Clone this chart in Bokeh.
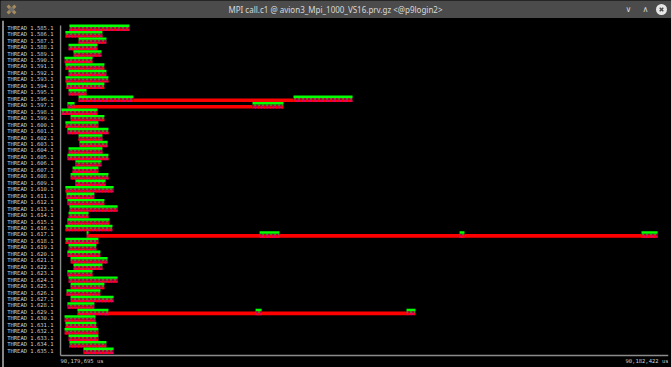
from bokeh.plotting import figure
from bokeh.layouts import column, row
from bokeh.models import Range1d, FixedTicker, ColumnDataSource
from bokeh.embed import file_html
from bokeh.resources import INLINE
from bokeh.core.properties import value

# time window shown (us)
T_BEGIN = 90179695
T_END = 90182422

thread_ids = list(range(585, 636))
thread_labels = [f"THREAD 1.{n}.1" for n in thread_ids]

# bursts of MPI calls: thread, begin and end in us after T_BEGIN
burst_thread = [585, 586, 587, 588, 589, 590, 591, 592, 593, 594, 595,
                596, 596, 597, 597, 598, 599, 600, 601, 602, 603, 604,
                605, 606, 607, 608, 609, 610, 611, 612, 613, 614, 615,
                616, 617, 617, 617, 617, 618, 619, 620, 621, 622, 623,
                624, 625, 626, 627, 628, 629, 629, 629, 630, 631, 632,
                633, 634, 635]
burst_begin = [40, 22, 81, 36, 58, 18, 22, 36, 22, 27, 36,
               81, 1045, 31, 861, 4, 45, 22, 31, 81, 85, 36,
               31, 67, 54, 45, 67, 22, 27, 31, 40, 36, 31,
               22, 117, 893, 1790, 2606, 22, 36, 31, 45, 58, 31,
               36, 45, 27, 45, 31, 76, 875, 1552, 18, 22, 18,
               36, 40, 103]
burst_end = [309, 188, 206, 166, 184, 144, 197, 206, 215, 197, 117,
             327, 1310, 63, 1000, 166, 197, 170, 215, 188, 211, 188,
             215, 184, 170, 215, 202, 238, 152, 197, 256, 126, 220,
             233, 126, 982, 1812, 2678, 170, 161, 179, 211, 188, 144,
             256, 197, 179, 238, 152, 215, 902, 1592, 157, 161, 170,
             170, 206, 238]

# long blocking calls
block_thread = [596, 597, 617, 629]
block_begin = [327, 54, 121, 202]
block_end = [1045, 861, 2669, 1556]

bursts = ColumnDataSource(dict(
    left=[T_BEGIN + b for b in burst_begin],
    right=[T_BEGIN + e for e in burst_end],
    y=[t - thread_ids[0] for t in burst_thread],
))
bursts.data["g_top"] = [y - 0.5 for y in bursts.data["y"]]
bursts.data["g_bot"] = [y - 0.12 for y in bursts.data["y"]]
bursts.data["m_bot"] = [y + 0.16 for y in bursts.data["y"]]
bursts.data["r_bot"] = [y + 0.5 for y in bursts.data["y"]]

blocks = ColumnDataSource(dict(
    left=[T_BEGIN + b for b in block_begin],
    right=[T_BEGIN + e for e in block_end],
    top=[t - thread_ids[0] - 0.05 for t in block_thread],
    bottom=[t - thread_ids[0] + 0.5 for t in block_thread],
))

LABEL_FONT = "DejaVu Sans Mono"
LABEL_COLOR = "#cfcfcf"
AXIS_COLOR = "#8c8c8c"
N = len(thread_ids)


def blank(fig, bg):
    fig.axis.visible = False
    fig.grid.visible = False
    fig.outline_line_color = None
    fig.background_fill_color = bg
    fig.border_fill_color = bg


# ---- window title bar ----
bar_bg = "#4b4b4b"
head = figure(width=671, height=18, x_range=Range1d(0, 671), y_range=Range1d(0, 18),
              min_border=0, toolbar_location=None, output_backend="svg")
blank(head, bar_bg)
head.text(x=[335], y=[9], text=["MPI call.c1 @ avion3_Mpi_1000_VS16.prv.gz <@p9login2>"],
          text_align="center", text_baseline="middle", text_font=value("Noto Sans"),
          text_font_size="8px", text_color="#d8d8d8")
head.text(x=[628, 645], y=[9, 9], text=["\u2228", "\u2227"], text_align="center",
          text_baseline="middle", text_font=value("DejaVu Sans"), text_font_size="8px",
          text_color="#d8d8d8")
head.scatter(x=[661], y=[9], size=11, marker="circle", fill_color="#e6e6e6", line_color=None)
head.scatter(x=[661], y=[9], size=5, marker="x", line_color=bar_bg, line_width=1.5)
head.scatter(x=[11], y=[9], size=11, marker="x", line_color="#a58b5c", line_width=3)
head.scatter(x=[11], y=[9], size=5, marker="circle", fill_color="#6d6d6d", line_color=None)

# ---- thin window edge ----
edge = figure(width=4, height=349, x_range=Range1d(0, 4), y_range=Range1d(0, 1),
              min_border=0, toolbar_location=None, output_backend="svg")
blank(edge, "black")
edge.segment(x0=[2.5], y0=[0], x1=[2.5], y1=[1], line_color="#b4b4b4", line_width=1.5)

# ---- timeline ----
# a hair of room left of T_BEGIN so the time axis line is not clipped
pad = (T_END - T_BEGIN) / 608.0
p = figure(width=667, height=349, toolbar_location=None, output_backend="svg",
           x_range=Range1d(T_BEGIN - pad, T_END), y_range=Range1d(52.6, -1.115),
           x_axis_location=None,
           min_border_left=55, min_border_right=3, min_border_top=2, min_border_bottom=0)
p.background_fill_color = "black"
p.border_fill_color = "black"
p.outline_line_color = None
p.grid.visible = False

p.yaxis.ticker = FixedTicker(ticks=list(range(N)))
p.yaxis.major_label_overrides = {i: s for i, s in enumerate(thread_labels)}
p.yaxis.major_label_text_font = LABEL_FONT
p.yaxis.major_label_text_font_size = "5.5px"
p.yaxis.major_label_text_color = LABEL_COLOR
p.yaxis.major_label_standoff = 0
p.yaxis.major_tick_line_color = None
p.yaxis.minor_tick_line_color = None
p.yaxis.axis_line_color = None

# time axis frame: vertical at the window begin, horizontal below the last thread
y_axis_top = -0.34
y_axis_bottom = N - 0.26
p.segment(x0=[T_BEGIN, T_BEGIN], y0=[y_axis_top, y_axis_bottom],
          x1=[T_BEGIN, T_END], y1=[y_axis_bottom, y_axis_bottom],
          line_color=AXIS_COLOR, line_width=1.5)

# blocking calls underneath the bursts
p.quad(left="left", right="right", top="top", bottom="bottom", source=blocks,
       fill_color="#ff0000", line_color=None)

# each burst: green band on top, green drips into magenta, red/pink stripes below
p.quad(left="left", right="right", top="g_bot", bottom="m_bot", source=bursts,
       fill_color="#b00048", line_color=None,
       hatch_pattern="|", hatch_color="#00f000", hatch_scale=4, hatch_weight=1)
p.quad(left="left", right="right", top="m_bot", bottom="r_bot", source=bursts,
       fill_color="#e8005c", line_color=None,
       hatch_pattern="|", hatch_color="#ff0000", hatch_scale=3, hatch_weight=1.5)
p.quad(left="left", right="right", top="g_top", bottom="g_bot", source=bursts,
       fill_color="#00ff00", line_color=None)

# begin / end stamps of the time window
stamp_y = N + 0.67
p.text(x=[T_BEGIN], y=[stamp_y], text=[f"{T_BEGIN:,} us"], text_align="left",
       text_baseline="middle", text_font=value(LABEL_FONT), text_font_size="5.5px",
       text_color=LABEL_COLOR)
p.text(x=[T_END], y=[stamp_y], text=[f"{T_END:,} us"], text_align="right",
       text_baseline="middle", text_font=value(LABEL_FONT), text_font_size="5.5px",
       text_color=LABEL_COLOR)

layout = column(head, row(edge, p, spacing=0), spacing=0)
layout.styles = {"background-color": "black"}

open("out.html", "w").write(file_html(layout, INLINE))
